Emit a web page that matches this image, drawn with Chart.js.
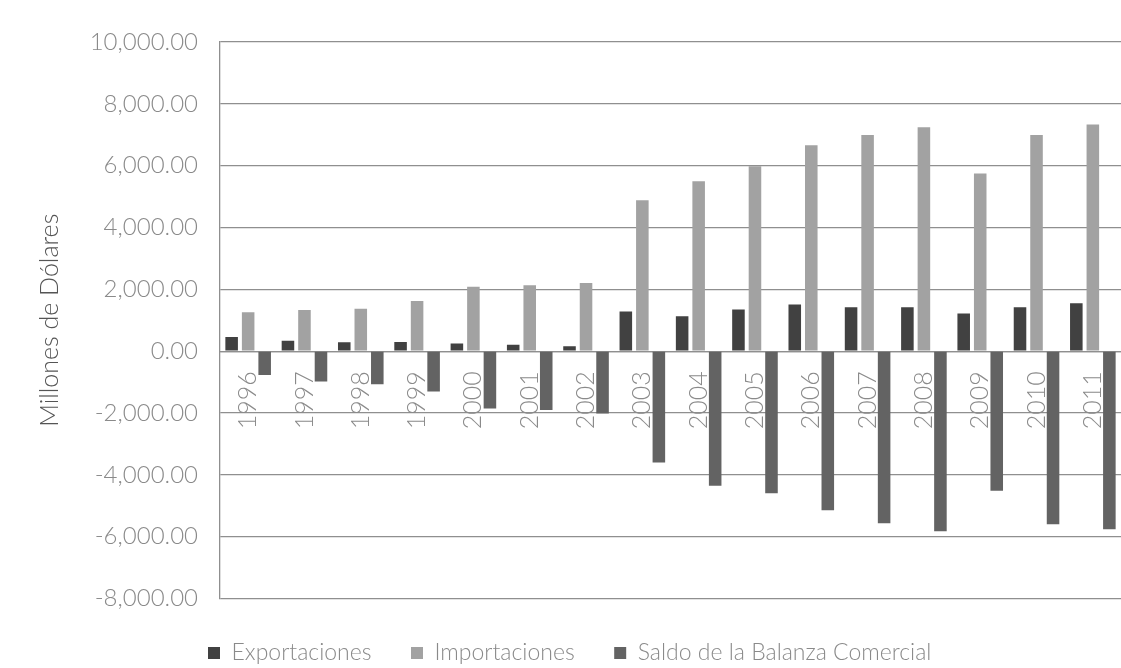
<!DOCTYPE html>
<html>
<head>
<meta charset="utf-8">
<script src="https://cdn.jsdelivr.net/npm/chart.js@4.4.1/dist/chart.umd.min.js"></script>
<style>
  html, body { margin: 0; padding: 0; background: #fff; }
  #wrap { position: relative; width: 1121px; height: 668px; }
</style>
</head>
<body>
<div id="wrap"><canvas id="chart"></canvas></div>
<script>
// datos (millones de dólares)
const years = ['1996', '1997', '1998', '1999', '2000', '2001', '2002', '2003',
               '2004', '2005', '2006', '2007', '2008', '2009', '2010', '2011'];
const exportaciones = [455, 337, 292, 295, 250, 205, 162, 1287, 1132, 1348, 1509, 1423, 1423, 1218, 1423, 1552];
const importaciones = [1255, 1330, 1372, 1622, 2085, 2130, 2205, 4883, 5497, 5982, 6661, 6995, 7243, 5746, 6995, 7330];
const saldo = [-768, -983, -1070, -1307, -1858, -1902, -2020, -3600, -4353, -4592, -5142, -5562, -5821, -4515, -5595, -5757];
const yTicks = [-8000, -6000, -4000, -2000, 0, 2000, 4000, 6000, 8000, 10000];

const FONT = "'Lato', sans-serif";
const gridColor = '#8f8f8f';
const textColor = '#8a8a8a';

// mover la leyenda a su sitio (empieza en x=208, texto centrado en y~653)
const shiftLegend = {
    id: 'shiftLegend',
    afterLayout(chart) {
        const lg = chart.legend;
        if (!lg) return;
        const pad = lg.options.labels.padding;
        const itemH = lg.options.labels.font.size;
        const dx = 208 - pad - lg.left;
        const dy = (653 - itemH / 2 - pad) - lg.top;
        lg.left += dx;
        lg.right += dx;
        lg.top += dy;
        lg.bottom += dy;
    }
};

const ctx = document.getElementById('chart').getContext('2d');
new Chart(ctx, {
    type: 'bar',
    plugins: [shiftLegend],
    data: {
        labels: years,
        datasets: [
            { label: 'Exportaciones', data: exportaciones, backgroundColor: '#414141' },
            { label: 'Importaciones', data: importaciones, backgroundColor: '#a2a2a2' },
            { label: 'Saldo de la Balanza Comercial', data: saldo, backgroundColor: '#636363' }
        ]
    },
    options: {
        responsive: true,
        maintainAspectRatio: false,
        animation: false,
        layout: { padding: { top: 42, left: 35, right: -4, bottom: -3 } },
        datasets: {
            bar: { categoryPercentage: 0.88, barPercentage: 0.76 }
        },
        plugins: {
            tooltip: { enabled: false },
            legend: {
                position: 'bottom',
                align: 'start',
                labels: {
                    boxWidth: 12,
                    boxHeight: 12,
                    padding: 39.5,
                    color: textColor,
                    font: { family: FONT, size: 23, weight: 300 }
                }
            }
        },
        scales: {
            x: {
                position: { y: 0 },
                z: 1,
                grid: { display: false, drawTicks: false },
                border: { display: true, color: gridColor, width: 1.3 },
                afterFit: (scale) => {
                    scale.height = 0;
                    scale.paddingLeft = 0;
                    scale.paddingRight = 0;
                },
                ticks: {
                    autoSkip: false,
                    minRotation: 90,
                    maxRotation: 90,
                    padding: 20,
                    color: textColor,
                    font: { family: FONT, size: 25, weight: 300 }
                }
            },
            y: {
                min: -8000,
                max: 10000,
                afterFit: (scale) => { scale.width = 185; },
                afterBuildTicks: (scale) => { scale.ticks = yTicks.map(v => ({ value: v })); },
                grid: { color: gridColor, lineWidth: 1.3, drawTicks: false },
                border: { color: gridColor, width: 1.3 },
                title: {
                    display: true,
                    text: 'Millones de Dólares',
                    color: '#555',
                    padding: 0,
                    font: { family: FONT, size: 25, weight: 300 }
                },
                ticks: {
                    padding: 22,
                    color: textColor,
                    font: { family: FONT, size: 24, weight: 300 },
                    callback: (v) => Number(v).toLocaleString('en-US', { minimumFractionDigits: 2, maximumFractionDigits: 2 })
                }
            }
        }
    }
});
</script>
</body>
</html>
